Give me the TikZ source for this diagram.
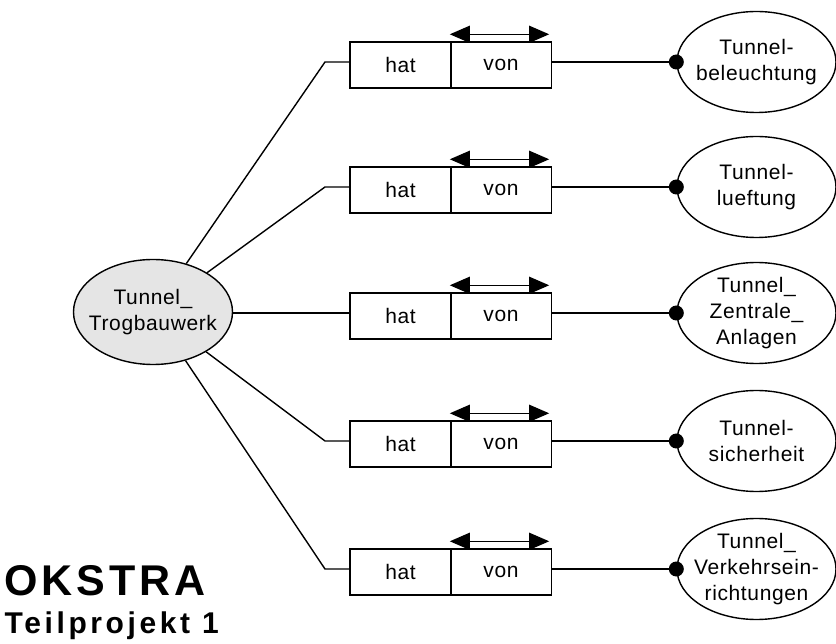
\documentclass[tikz,border=0pt]{standalone}
\usepackage{fontspec}
\setmainfont{Liberation Sans}
\newfontfamily\labfont[LetterSpace=3]{Liberation Sans}
\newfontfamily\ttlfont[LetterSpace=9]{Liberation Sans}
\newfontfamily\subfont[LetterSpace=12]{Liberation Sans}
\usetikzlibrary{arrows.meta,shapes.geometric}
\begin{document}
\begin{tikzpicture}[x=1pt,y=-1pt,line width=1.4pt,
  ent/.style={ellipse,draw,minimum width=159pt,minimum height=101pt,inner sep=0pt},
  mainent/.style={ent,fill=black!10,minimum height=105pt},
  lbl/.style={font=\labfont\fontsize{21}{26}\selectfont,align=center,inner sep=0pt},
  rel/.style={rectangle,draw,minimum width=101pt,minimum height=46pt,inner sep=0pt,font=\labfont\fontsize{21}{26}\selectfont},
  dir/.style={{Triangle[length=20pt,width=17pt]}-{Triangle[length=20pt,width=17pt]}},
  dotc/.style={fill=black}]
\useasboundingbox (0,0) rectangle (836,644);

% main entity
\node[mainent] (L) at (153,312) {};
\node[lbl] (Lt) at (L) {Tunnel\_\\Trogbauwerk};

% rows
\foreach \i/\y/\txt in {1/62/{Tunnel-\\beleuchtung},2/187/{Tunnel-\\lueftung},3/313/{Tunnel\_\\Zentrale\_\\Anlagen},4/441/{Tunnel-\\sicherheit},5/569/{Tunnel\_\\Verkehrsein-\\richtungen}}{
  \node[rel] (h\i) at (400.5,\y+3) {hat};
  \node[rel] (v\i) at (501,\y+3) {von};
  \node[ent] (E\i) at (756.5,\y) {};
  \node[lbl] (T\i) at (E\i) {\txt};
  \coordinate (a\i) at ([yshift=7pt]v\i.north west);
  \coordinate (b\i) at ([xshift=-3pt,yshift=7pt]v\i.north east);
  \draw[dir] (a\i) -- (b\i);
  \draw (v\i.east |- E\i.west) -- (E\i.west);
  \fill[dotc] (E\i.west) circle[radius=7.5pt];
}
\coordinate (k1) at (325,62);
\coordinate (k2) at (325,187);
\coordinate (k4) at (325,441);
\coordinate (k5) at (325,569);
\draw (L) -- (k1) -- (h1.west |- k1);
\draw (L) -- (k2) -- (h2.west |- k2);
\draw (L.east |- E3.west) -- (h3.west |- E3.west);
\draw (L) -- (k4) -- (h4.west |- k4);
\draw (L) -- (k5) -- (h5.west |- k5);

\node[anchor=base west,inner sep=0pt,font=\ttlfont\bfseries\fontsize{43}{48}\selectfont] (ok) at (4,595) {OKSTRA};
\node[anchor=base west,inner sep=0pt,font=\subfont\bfseries\fontsize{30}{34}\selectfont] (tp) at (4,633) {Teilprojekt 1};
\end{tikzpicture}
\end{document}
